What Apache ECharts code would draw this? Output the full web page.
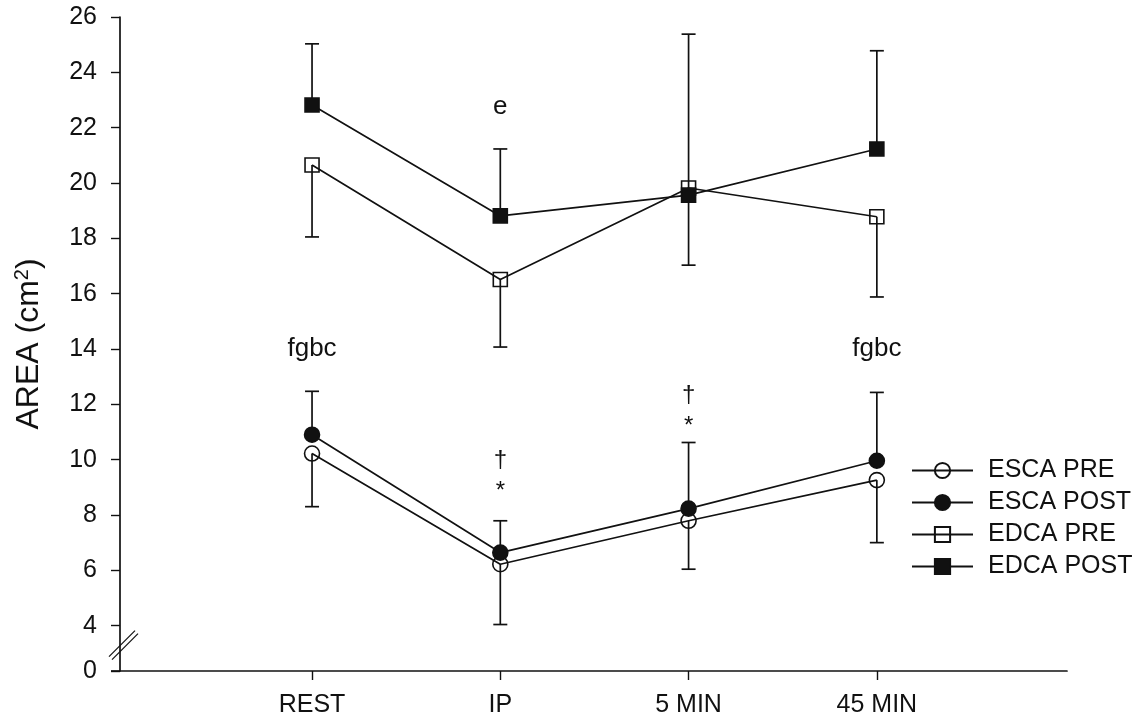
<!DOCTYPE html>
<html>
<head>
<meta charset="utf-8">
<title>AREA by time point</title>
<script src="https://cdn.jsdelivr.net/npm/echarts@6/dist/echarts.min.js"></script>
<style>
  html, body { margin: 0; padding: 0; background: #fff; }
  #chart { width: 1144px; height: 723px; }
</style>
</head>
<body>
<div id="chart"></div>
<script>
// Time points along the x axis
const categories = ['REST', 'IP', '5 MIN', '45 MIN'];

// Group means (cm²)
const escaPre  = [10.22, 6.22, 7.79, 9.26];
const escaPost = [10.90, 6.64, 8.23, 9.96];
const edcaPre  = [20.65, 16.51, 19.82, 18.78];
const edcaPost = [22.82, 18.81, 19.56, 21.23];

// Error bar ends: PRE groups drawn downward, POST groups upward
const escaPreLow   = [8.30, 4.04, 6.04, 7.00];
const escaPostHigh = [12.47, 7.79, 10.62, 12.43];
const edcaPreLow   = [18.05, 14.07, 17.03, 15.88];
const edcaPostHigh = [25.03, 21.23, 25.38, 24.78];

// Y tick values; the lowest one sits below the axis break and reads "0"
const yTicks = [4, 6, 8, 10, 12, 14, 16, 18, 20, 22, 24, 26];
const yBreakValue = 2.36;

// Significance annotations: [category index, value, text]
const notes = [
  [0, 14.0, 'fgbc'],
  [3, 14.0, 'fgbc'],
  [1, 22.75, 'e'],
  [1, 9.96, '†'],
  [1, 8.85, '*'],
  [2, 12.32, '†'],
  [2, 11.20, '*']
];

const FONT = 'Liberation Sans, Arial, Helvetica, sans-serif';
const INK = '#111';

function pairs(arr) { return arr.map((v, i) => [i, v]); }
function bars(mean, end) { return mean.map((v, i) => [i, v, end[i]]); }

function errorBar(params, api) {
  const x = api.value(0);
  const p0 = api.coord([x, api.value(1)]);
  const p1 = api.coord([x, api.value(2)]);
  const half = 7;
  return {
    type: 'group',
    children: [
      { type: 'line', shape: { x1: p0[0], y1: p0[1], x2: p1[0], y2: p1[1] },
        style: { stroke: INK, lineWidth: 1.7 } },
      { type: 'line', shape: { x1: p1[0] - half, y1: p1[1], x2: p1[0] + half, y2: p1[1] },
        style: { stroke: INK, lineWidth: 1.7 } }
    ]
  };
}

function noteText(params, api) {
  const p = api.coord([api.value(0), api.value(1)]);
  const txt = notes[params.dataIndex][2];
  const small = txt === '†' || txt === '*';
  return {
    type: 'text',
    x: p[0], y: p[1],
    style: {
      text: txt, fill: INK, font: (small ? '24px ' : '26px ') + FONT,
      align: 'center', verticalAlign: 'middle'
    }
  };
}

function lineSeries(name, data, symbol, filled) {
  return {
    name, type: 'line', data: pairs(data),
    symbol, symbolSize: symbol === 'circle' ? 15 : 14,
    showSymbol: true,
    lineStyle: { color: INK, width: 1.7 },
    itemStyle: {
      color: filled ? INK : 'rgba(0,0,0,0)',
      borderColor: INK, borderWidth: 1.6, opacity: 1
    },
    emphasis: { disabled: true },
    z: 3
  };
}

const chart = echarts.init(document.getElementById('chart'), null, { renderer: 'canvas' });

const option = {
  animation: false,
  backgroundColor: '#fff',
  textStyle: { fontFamily: FONT },
  grid: { left: 120, right: 77, top: 17, bottom: 52, containLabel: false },
  xAxis: {
    type: 'value', min: -1.02, max: 4.01,
    splitLine: { show: false },
    axisLine: { show: true, onZero: false, lineStyle: { color: INK, width: 1.7 } },
    axisTick: { show: true, customValues: [0, 1, 2, 3], length: 9, inside: false,
      lineStyle: { color: INK, width: 1.4 } },
    axisLabel: {
      customValues: [0, 1, 2, 3], margin: 22, color: INK, fontSize: 25, fontFamily: FONT,
      formatter: v => categories[Math.round(v)] || ''
    }
  },
  yAxis: {
    type: 'value', min: yBreakValue, max: 26,
    name: 'AREA (cm{sup|2})',
    nameLocation: 'middle', nameRotate: 90, nameGap: 74,
    nameTextStyle: {
      color: INK, fontSize: 32, fontFamily: FONT,
      rich: { sup: { fontSize: 20, fontFamily: FONT, color: INK, verticalAlign: 'top', padding: [0, 0, 14, 0] } }
    },
    splitLine: { show: false },
    axisLine: { show: true, onZero: false, lineStyle: { color: INK, width: 1.7 } },
    axisTick: { show: true, customValues: [yBreakValue].concat(yTicks), length: 9,
      lineStyle: { color: INK, width: 1.4 } },
    axisLabel: {
      customValues: [yBreakValue].concat(yTicks), margin: 23, color: INK, fontSize: 25, fontFamily: FONT,
      formatter: v => (Math.abs(v - yBreakValue) < 1e-6 ? '0' : String(Math.round(v)))
    }
  },
  legend: {
    orient: 'vertical', left: 911, top: 458, padding: 0,
    itemWidth: 61, itemHeight: 19, itemGap: 7,
    textStyle: { color: INK, fontSize: 25, fontFamily: FONT, lineHeight: 25, padding: [0, 0, 0, 10] },
    data: ['ESCA PRE', 'ESCA POST', 'EDCA PRE', 'EDCA POST'],
    selectedMode: false
  },
  series: [
    { type: 'custom', renderItem: errorBar, data: bars(escaPre, escaPreLow), z: 2, silent: true },
    { type: 'custom', renderItem: errorBar, data: bars(escaPost, escaPostHigh), z: 2, silent: true },
    { type: 'custom', renderItem: errorBar, data: bars(edcaPre, edcaPreLow), z: 2, silent: true },
    { type: 'custom', renderItem: errorBar, data: bars(edcaPost, edcaPostHigh), z: 2, silent: true },
    lineSeries('ESCA PRE', escaPre, 'circle', false),
    lineSeries('ESCA POST', escaPost, 'circle', true),
    lineSeries('EDCA PRE', edcaPre, 'rect', false),
    lineSeries('EDCA POST', edcaPost, 'rect', true),
    { type: 'custom', renderItem: noteText, data: notes.map(n => [n[0], n[1]]), z: 5, silent: true }
  ]
};

chart.setOption(option);

// Axis break marks on the y axis and the short x-axis stub left of it
const base = chart.convertToPixel({ gridIndex: 0 }, [-1.02, 3.35]);
const zero = chart.convertToPixel({ gridIndex: 0 }, [-1.02, yBreakValue]);
chart.setOption({
  graphic: [
    { type: 'line', shape: { x1: base[0] - 11, y1: base[1] + 13, x2: base[0] + 15, y2: base[1] - 13 },
      style: { stroke: INK, lineWidth: 1.2 }, z: 10 },
    { type: 'line', shape: { x1: base[0] - 8, y1: base[1] + 16, x2: base[0] + 18, y2: base[1] - 10 },
      style: { stroke: INK, lineWidth: 1.2 }, z: 10 },
    { type: 'line', shape: { x1: zero[0] - 9, y1: zero[1], x2: zero[0], y2: zero[1] },
      style: { stroke: INK, lineWidth: 1.7 }, z: 10 }
  ]
});
</script>
</body>
</html>
